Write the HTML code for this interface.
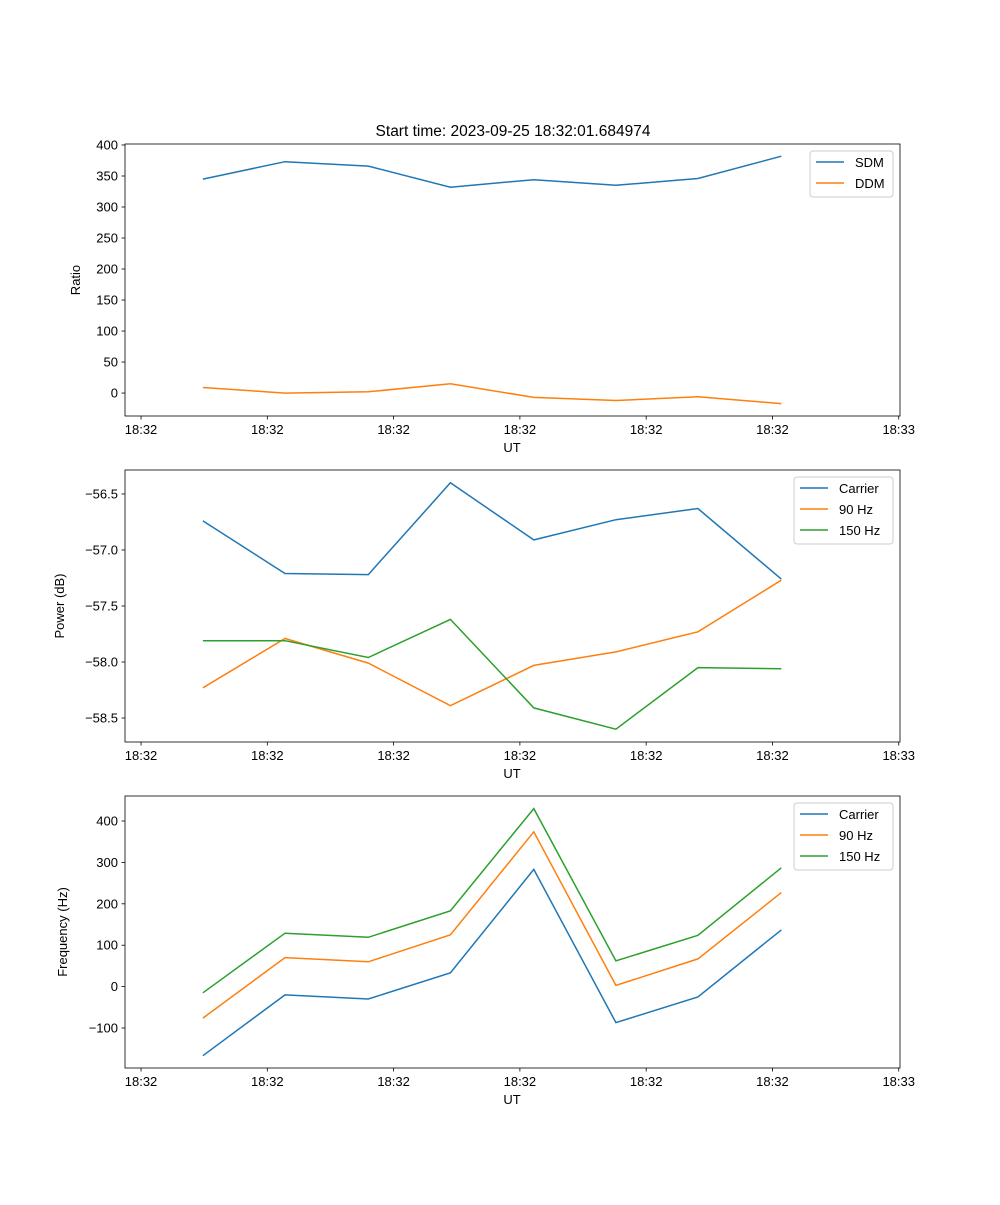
<!DOCTYPE html>
<html><head><meta charset="utf-8"><style>
body{margin:0;background:#fff}
svg text{font-family:"Liberation Sans","DejaVu Sans",sans-serif;font-size:13px;fill:#000}
</style></head><body>
<svg id="fig" width="1000" height="1200" xmlns="http://www.w3.org/2000/svg">
<text x="513" y="136" text-anchor="middle" style="font-size:15.5px">Start time: 2023-09-25 18:32:01.684974</text>
</svg>
<script>
const times = [4.9, 11.4, 18.0, 24.5, 31.1, 37.6, 44.1, 50.7];
const xTickVals = [0, 10, 20, 30, 40, 50, 60];
const xTickLabels = ["18:32","18:32","18:32","18:32","18:32","18:32","18:33"];
const sdm = [345, 373, 366, 332, 344, 335, 346, 382];
const ddm = [9, 0, 2, 15, -7, -12, -6, -17];
const powCarrier = [-56.74, -57.21, -57.22, -56.40, -56.91, -56.73, -56.63, -57.26];
const pow90 = [-58.23, -57.79, -58.01, -58.39, -58.03, -57.91, -57.73, -57.27];
const pow150 = [-57.81, -57.81, -57.96, -57.62, -58.41, -58.60, -58.05, -58.06];
const freqCarrier = [-167, -20, -30, 33, 283, -87, -25, 137];
const freq90 = [-76, 70, 60, 125, 374, 3, 67, 227];
const freq150 = [-15, 129, 119, 183, 430, 62, 124, 287];
const ticks1 = [0, 50, 100, 150, 200, 250, 300, 350, 400];
const ticks2 = [-58.5, -58.0, -57.5, -57.0, -56.5];
const ticks3 = [-100, 0, 100, 200, 300, 400];

const NS = "http://www.w3.org/2000/svg";
const svg = document.getElementById('fig');
function mk(tag, attrs, parent){const e=document.createElementNS(NS,tag);for(const k in attrs)e.setAttribute(k,attrs[k]);(parent||svg).appendChild(e);return e;}
const X0=125,X1=900,XD0=-1.27,XD1=60.1;
const xs = v => X0+(v-XD0)/(XD1-XD0)*(X1-X0);

function panel(name, top, ymin, ymax, yticks, fmt, ylabel, ylabX, series, legend){
  const bot=top+272;
  const ys = v => bot-(v-ymin)/(ymax-ymin)*272;
  const g=mk('g',{});
  
  
  series.forEach(s=>{
    const p=mk('polyline',{points:s.data.map((v,i)=>xs(times[i]).toFixed(1)+','+ys(v).toFixed(1)).join(' '),fill:'none',stroke:s.color,'stroke-width':1.5},g);
    
    
  });
  const fr=mk('rect',{x:X0,y:top,width:X1-X0,height:272,fill:'none',stroke:'#000','stroke-width':0.8},g);
  
  
  xTickVals.forEach((v,i)=>{
    const x=xs(v);
    mk('line',{x1:x,x2:x,y1:bot,y2:bot+3.5,stroke:'#000','stroke-width':0.8},g);
    const t=mk('text',{x:x,y:bot+18,'text-anchor':'middle'},g);t.textContent=xTickLabels[i];
    
    
  });
  yticks.forEach(v=>{
    const y=ys(v);
    mk('line',{x1:X0-3.5,x2:X0,y1:y,y2:y,stroke:'#000','stroke-width':0.8},g);
    const t=mk('text',{x:X0-7,y:y+4.5,'text-anchor':'end'},g);t.textContent=fmt(v);
    
    
  });
  const xl=mk('text',{x:512,y:bot+36,'text-anchor':'middle'},g);xl.textContent='UT';
  
  
  const yl=mk('text',{x:ylabX,y:top+136,'text-anchor':'middle',transform:`rotate(-90 ${ylabX} ${top+136})`},g);yl.textContent=ylabel;
  
  
  const lg=mk('g',{},g);
  
  
  mk('rect',{x:legend.x,y:top+7,width:legend.w,height:series.length*21+4,rx:3,fill:'#fff',stroke:'#ccc','stroke-width':1},lg);
  series.forEach((s,i)=>{
    const y=top+18+i*21;
    mk('line',{x1:legend.x+6,x2:legend.x+34,y1:y,y2:y,stroke:s.color,'stroke-width':1.5},lg);
    const t=mk('text',{x:legend.x+45,y:y+5},lg);t.textContent=s.label;
    
    
  });
}
const B='#1f77b4',O='#ff7f0e',G='#2ca02c';
panel('ratio',144,-37,401.6,ticks1,v=>String(v),'Ratio',80,
  [{id:'sdm',data:sdm,color:B,label:'SDM'},{id:'ddm',data:ddm,color:O,label:'DDM'}],{x:810,w:83});
panel('power',470,-58.714,-56.286,ticks2,v=>'\u2212'+Math.abs(v).toFixed(1),'Power (dB)',64,
  [{id:'carrier',data:powCarrier,color:B,label:'Carrier'},{id:'90hz',data:pow90,color:O,label:'90 Hz'},{id:'150hz',data:pow150,color:G,label:'150 Hz'}],{x:794,w:99});
panel('frequency',796,-196.6,460.4,ticks3,v=>v<0?'\u2212'+Math.abs(v):String(v),'Frequency (Hz)',67,
  [{id:'carrier',data:freqCarrier,color:B,label:'Carrier'},{id:'90hz',data:freq90,color:O,label:'90 Hz'},{id:'150hz',data:freq150,color:G,label:'150 Hz'}],{x:794,w:99});
</script>
</body></html>
